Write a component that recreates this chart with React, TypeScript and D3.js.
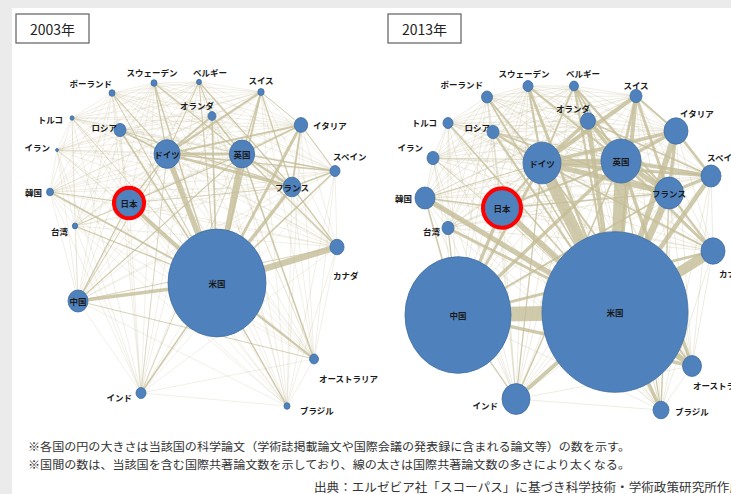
import React from "react";
import * as d3 from "d3";

const COUNTRIES = ["米国","中国","日本","ドイツ","英国","フランス","イタリア","カナダ","スペイン","韓国","インド","オーストラリア","ロシア","オランダ","スイス","スウェーデン","ベルギー","ポーランド","トルコ","イラン","台湾","ブラジル"];

const PAPERS_2003 = [240, 10, 17, 17, 16, 8, 4.5, 5, 2.5, 1.2, 2.5, 2, 3.6, 1.6, 1, 0.9, 0.6, 0.9, 0.4, 0.2, 0.7, 0.9];
const PAPERS_2013 = [533, 281, 29, 36, 40, 21, 14.4, 14.4, 10, 10, 19.6, 9, 3.6, 5.6, 3.6, 2.5, 2, 3, 2.5, 3.6, 3.6, 6.4];

// Network layout (panel-relative units)
const LAYOUT_2003 = [[217,283],[78,301],[129,203],[167,154],[242,154],[292,187],[301,125],[337,247],[335,171],[50,192],[141,393],[314,359],[120,130],[212,116],[261,92],[154,83],[199,82],[112,93],[72,118],[57,150],[75,226],[287,406]];
const LAYOUT_2013 = [[250,312],[93,315],[137,208],[177,163],[256,161],[304,193],[311,131],[348,251],[346,176],[60,198],[151,399],[327,366],[128,132],[223,121],[271,96],[163,86],[209,86],[122,97],[83,123],[68,158],[83,228],[296,410]];

const LABEL_2003 = [[0,0,"middle"],[0,0,"middle"],[0,0,"middle"],[0,0,"middle"],[0,0,"middle"],[0,0,"middle"],[12,0,"start"],[-4,28,"start"],[-2,-15,"start"],[-8,0,"end"],[-9,4,"end"],[5,19,"start"],[-3,-3,"end"],[2,-11,"end"],[0,-12,"middle"],[-2,-11,"middle"],[11,-10,"middle"],[0,-10,"end"],[-9,1,"end"],[-7,-3,"end"],[-7,5,"end"],[13,4,"start"]];
const LABEL_2013 = [[0,0,"middle"],[0,0,"middle"],[0,0,"middle"],[0,0,"middle"],[0,0,"middle"],[0,0,"middle"],[4,-18,"start"],[6,22,"start"],[-4,-19,"start"],[-13,0,"end"],[-18,6,"end"],[1,19,"start"],[-3,-5,"end"],[2,-13,"end"],[0,-11,"middle"],[-4,-13,"middle"],[9,-13,"middle"],[-4,-13,"end"],[-11,-1,"end"],[-10,-11,"end"],[-8,3,"end"],[14,1,"start"]];

// Co-authored papers (thousands)
const LINKS_2003: [string, string, number][] = [
  ["米国","カナダ",10],["米国","英国",8.5],["米国","ドイツ",8.5],["米国","日本",6],["米国","中国",5],["米国","フランス",5],
  ["米国","イタリア",4],["米国","オーストラリア",3],["米国","韓国",2.5],["米国","インド",1.8],["米国","スイス",2.5],
  ["米国","オランダ",2.2],["米国","スペイン",2],["米国","スウェーデン",1.8],["米国","ロシア",2],["米国","台湾",1.5],
  ["米国","ブラジル",1.5],["米国","ベルギー",1],["米国","ポーランド",0.8],["米国","トルコ",0.6],
  ["ドイツ","英国",4],["ドイツ","フランス",4],["英国","フランス",3],["ドイツ","スイス",3],["ドイツ","イタリア",2.5],
  ["英国","イタリア",2.2],["フランス","イタリア",2.5],["ドイツ","オランダ",2.5],["英国","オランダ",2.2],["フランス","スペイン",2],
  ["英国","スペイン",1.5],["ドイツ","スペイン",1.5],["ドイツ","ロシア",2],["フランス","ロシア",1.2],["ドイツ","スウェーデン",1.5],
  ["英国","スウェーデン",1.5],["ドイツ","ポーランド",1.2],["フランス","スイス",1.5],["英国","スイス",1.5],["イタリア","スペイン",1.2],
  ["英国","オーストラリア",2],["英国","カナダ",2],["フランス","カナダ",1.5],["ドイツ","日本",1.5],["日本","中国",1.5],
  ["日本","英国",1.2],["日本","韓国",1.2],["日本","フランス",0.8],["英国","中国",1.2],["ドイツ","中国",1],["カナダ","中国",0.8],
  ["オーストラリア","中国",0.8],["フランス","ベルギー",1.5],["オランダ","ベルギー",1],["ドイツ","ベルギー",1],["イタリア","スイス",1],
  ["英国","インド",0.6],["ドイツ","インド",0.6],["日本","台湾",0.5],["イタリア","スペイン",1.2]
];
const LINKS_2013: [string, string, number][] = [
  ["米国","中国",24],["米国","英国",19],["米国","ドイツ",19],["米国","カナダ",16],["米国","フランス",11],["米国","日本",9],
  ["米国","イタリア",9],["米国","韓国",8],["米国","オーストラリア",9],["米国","インド",6],["米国","スペイン",7],["米国","スイス",6],
  ["米国","オランダ",7],["米国","スウェーデン",4],["米国","ブラジル",5],["米国","台湾",4],["米国","ロシア",3],["米国","ベルギー",3],
  ["米国","ポーランド",2],["米国","トルコ",2],["米国","イラン",0.6],
  ["中国","日本",5],["中国","英国",5],["中国","ドイツ",4],["中国","オーストラリア",5],["中国","カナダ",4],["中国","韓国",2],
  ["中国","台湾",1.5],["中国","フランス",2.5],["中国","インド",1.5],
  ["ドイツ","英国",9],["ドイツ","フランス",8],["英国","フランス",7],["ドイツ","スイス",6],["ドイツ","イタリア",5],["英国","イタリア",5],
  ["フランス","イタリア",5],["英国","スペイン",5],["ドイツ","スペイン",4.5],["フランス","スペイン",4.5],["イタリア","スペイン",4],
  ["ドイツ","オランダ",5],["英国","オランダ",5],["フランス","オランダ",3],["ドイツ","スウェーデン",3],["英国","スウェーデン",3],
  ["英国","オーストラリア",5],["英国","カナダ",4],["フランス","カナダ",3],["ドイツ","ロシア",3],["フランス","ロシア",2],
  ["ドイツ","ポーランド",2.5],["フランス","スイス",4],["英国","スイス",4],["イタリア","スイス",3],["日本","ドイツ",2.5],
  ["日本","英国",2.5],["日本","韓国",2],["日本","フランス",2],["英国","インド",2],["ドイツ","インド",1.5],["韓国","ドイツ",1],
  ["英国","ベルギー",2.5],["フランス","ベルギー",3],["ドイツ","ベルギー",2.5],["オランダ","ベルギー",2.5],["オーストラリア","ドイツ",2.5],
  ["カナダ","ドイツ",2.5],["ブラジル","英国",1.5],["ブラジル","フランス",1.5],["英国","イラン",0.5],["スペイン","オランダ",2]
];
const MINOR_LINK_2003 = 0.15;
const MINOR_LINK_2013 = 0.3;

const YEARS = ["2003年", "2013年"];
const NOTES = [
  "※各国の円の大きさは当該国の科学論文（学術誌掲載論文や国際会議の発表録に含まれる論文等）の数を示す。",
  "※国間の数は、当該国を含む国際共著論文数を示しており、線の太さは国際共著論文数の多さにより太くなる。",
  "出典：エルゼビア社「スコーパス」に基づき科学技術・学術政策研究所作成",
];

const W = 731, H = 494;
const FONT = "'Noto Sans CJK JP', 'Noto Sans', sans-serif";
const rScale = d3.scaleSqrt().domain([0, 1000]).range([0, 100]);
const wScale = d3.scaleLinear().domain([0, 25]).range([0.4, 15.4]);
const ASPECT = 1.1;

function Panel({ x0, year, papers, layout, labels, links, minor }: any) {
  const xs = d3.scaleLinear().domain([0, 365]).range([x0, x0 + 365]);
  const ys = d3.scaleLinear().domain([0, 494]).range([0, 494]);
  const idx = new Map(COUNTRIES.map((c, i) => [c, i]));
  const wmap = new Map<string, number>();
  links.forEach(([a, b, v]: any) => {
    const i = idx.get(a)!, j = idx.get(b)!;
    wmap.set(`${Math.min(i, j)}-${Math.max(i, j)}`, v);
  });
  const edges: { i: number; j: number; w: number }[] = [];
  for (let i = 0; i < COUNTRIES.length; i++)
    for (let j = i + 1; j < COUNTRIES.length; j++)
      edges.push({ i, j, w: wmap.get(`${i}-${j}`) ?? minor });
  edges.sort((a, b) => a.w - b.w);
  const jp = idx.get("日本")!;
  return (
    <g>
      <rect x={x0 + (x0 ? 23 : 16)} y={14} width={73} height={29} fill="#fff" stroke="#6b6b6b" strokeWidth={1.3} />
      <text x={x0 + (x0 ? 23 : 16) + 36.5} y={29} textAnchor="middle" dominantBaseline="central" fontSize={14}
        fontFamily="'Liberation Sans Narrow', 'Noto Sans CJK JP', sans-serif" fill="#222">{year}</text>
      <g>
        {edges.map((e, k) => (
          <line key={k} x1={xs(layout[e.i][0])} y1={ys(layout[e.i][1])} x2={xs(layout[e.j][0])} y2={ys(layout[e.j][1])}
            stroke="#c4bd97" strokeWidth={wScale(e.w)} strokeOpacity={e.w <= minor ? 0.5 : 0.8} />
        ))}
      </g>
      <g>
        {COUNTRIES.map((c, i) => {
          const r = rScale(papers[i]);
          return <ellipse key={c} cx={xs(layout[i][0])} cy={ys(layout[i][1])} rx={r} ry={r * ASPECT}
            fill="#4f81bd" stroke="#3f6d9f" strokeWidth={0.8} />;
        })}
        <ellipse cx={xs(layout[jp][0])} cy={ys(layout[jp][1])} rx={rScale(papers[jp]) + 2} ry={rScale(papers[jp]) * ASPECT + 1}
          fill="none" stroke="#ff0000" strokeWidth={4} />
      </g>
      <g>
        {COUNTRIES.map((c, i) => (
          <text key={c} x={xs(layout[i][0] + labels[i][0])} y={ys(layout[i][1] + labels[i][1])} textAnchor={labels[i][2]}
            dominantBaseline="central" fontSize={8.5} fontWeight={700} fontFamily={FONT} fill="#1a1a1a">{c}</text>
        ))}
      </g>
    </g>
  );
}

export default function App() {
  return (
    <svg width={W} height={H} style={{ position: "absolute", left: 0, top: 0 }}>
      <rect x={0} y={0} width={W} height={H} fill="#ebebeb" />
      <rect x={12} y={8} width={W - 12} height={H - 8} fill="#ffffff" />
      <Panel x0={0} year={YEARS[0]} papers={PAPERS_2003} layout={LAYOUT_2003} labels={LABEL_2003} links={LINKS_2003} minor={MINOR_LINK_2003} />
      <Panel x0={365} year={YEARS[1]} papers={PAPERS_2013} layout={LAYOUT_2013} labels={LABEL_2013} links={LINKS_2013} minor={MINOR_LINK_2013} />
      <text x={28} y={446} dominantBaseline="central" fontSize={11.5} fontFamily={FONT} fill="#333" textLength={602} lengthAdjust="spacingAndGlyphs">{NOTES[0]}</text>
      <text x={28} y={464} dominantBaseline="central" fontSize={11.5} fontFamily={FONT} fill="#333" textLength={602} lengthAdjust="spacingAndGlyphs">{NOTES[1]}</text>
      <text x={314} y={486} dominantBaseline="central" fontSize={12} fontFamily={FONT} fill="#333" textLength={428} lengthAdjust="spacingAndGlyphs">{NOTES[2]}</text>
    </svg>
  );
}
